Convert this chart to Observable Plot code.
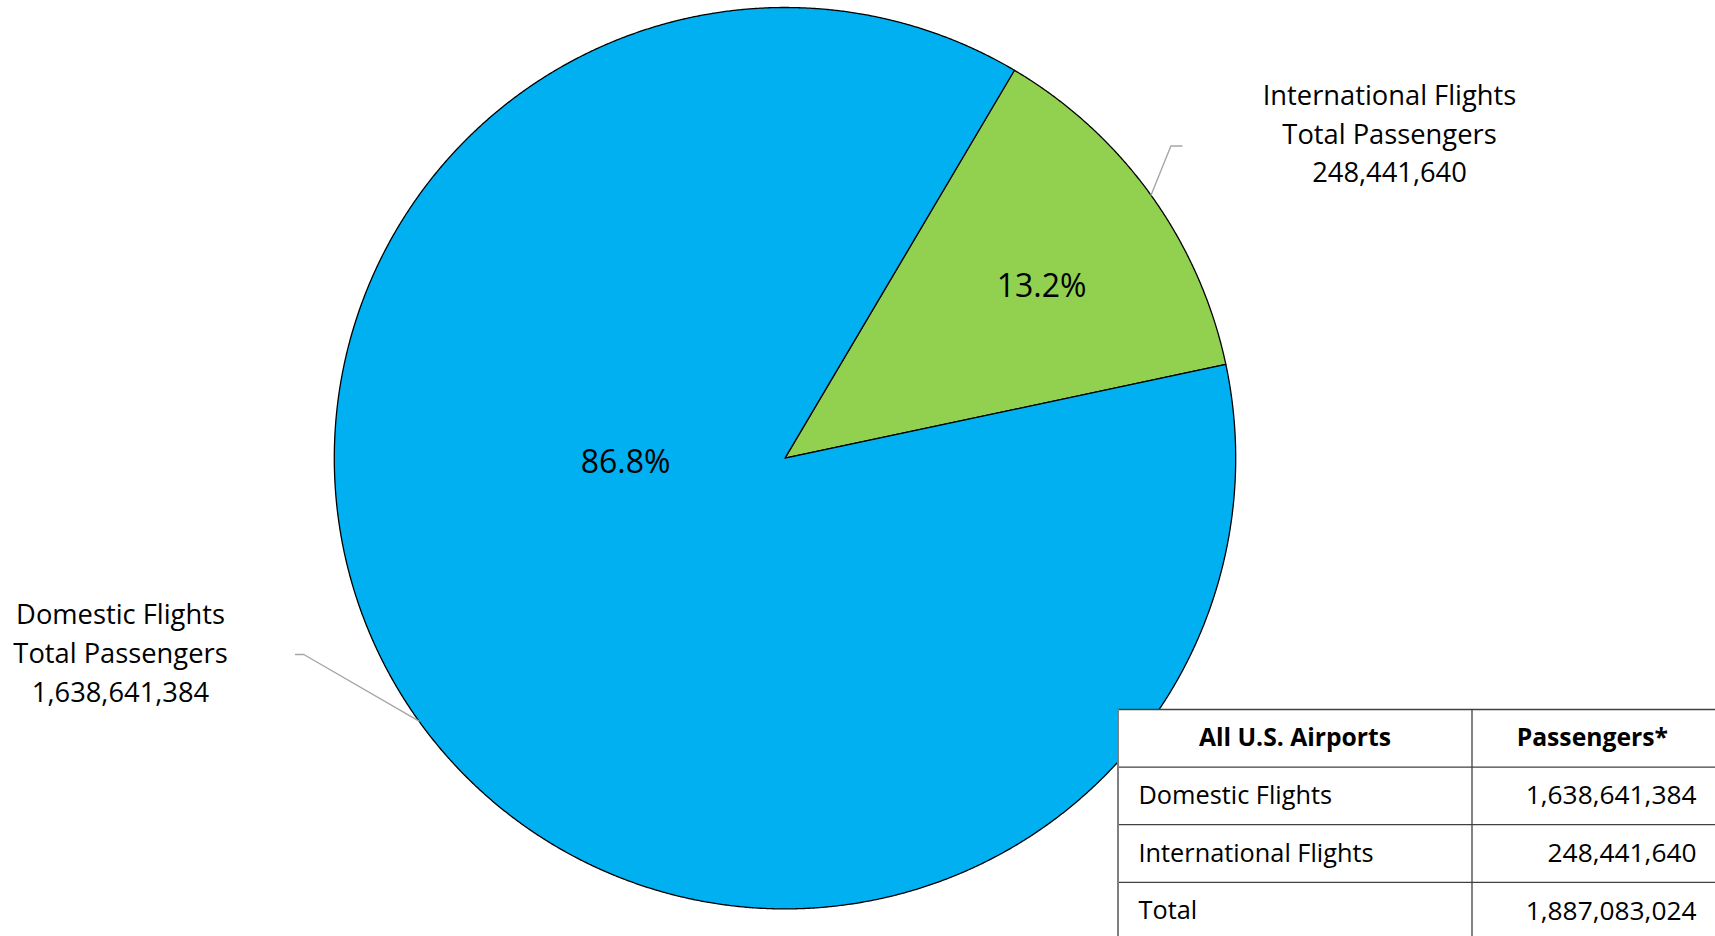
<!DOCTYPE html>
<html><head><meta charset="utf-8">
<script src="https://cdn.jsdelivr.net/npm/d3@7"></script>
<script src="https://cdn.jsdelivr.net/npm/@observablehq/plot@0.6"></script>
<style>html,body{margin:0;padding:0;background:#fff;overflow:hidden;}</style>
</head><body><div id="chart"></div>
<script>
// ---- data ----
const categories = ["Domestic Flights", "International Flights"];
const passengers = [1638641384, 248441640];
const sliceColors = ["#00B0F0", "#92D050"];
const tableHeaders = ["All U.S. Airports", "Passengers*"];
const totalLabel = "Total";
const subLabel = "Total Passengers";

// ---- layout ----
const W = 1715, H = 936;
const cx = 784.5, cy = 457.7, R = 450.7;
const startDeg = 30.6; // start of the international slice, clockwise from 12 o'clock
const rad = d => d * Math.PI / 180;
const polar = (a, r) => [cx + r * Math.sin(a), cy - r * Math.cos(a)];

const total = d3.sum(passengers);
const fmt = d3.format(",");
const pctFmt = d3.format(".1%");

const arcs = d3.pie().sort(null).value(i => passengers[i])
  .startAngle(rad(startDeg)).endAngle(rad(startDeg + 360))([1, 0]);

const slicePts = [];
for (const a of arcs) {
  const name = categories[a.data];
  slicePts.push({name, x: cx, y: cy});
  const n = Math.ceil((a.endAngle - a.startAngle) / rad(0.2));
  for (let k = 0; k <= n; k++) {
    const t = a.startAngle + (a.endAngle - a.startAngle) * k / n;
    const [x, y] = polar(t, R);
    slicePts.push({name, x, y});
  }
  slicePts.push({name, x: cx, y: cy});
}

// percentage label placement (polar, relative to pie)
const pctPlace = {"Domestic Flights": {deg: 268.5, f: 0.354}, "International Flights": {deg: 56.2, f: 0.685}};
const pctLabels = categories.map((c, i) => {
  const [x, y] = polar(rad(pctPlace[c].deg), pctPlace[c].f * R);
  return {x, y, text: pctFmt(passengers[i] / total)};
});

// outer labels & leader lines
const outerPlace = {
  "Domestic Flights": {x: 120, y: 650.3, elbow: [303.3, 654], end: [295, 654]},
  "International Flights": {x: 1389, y: 130.6, elbow: [1170.4, 145.5], end: [1181.5, 145.5]}
};
const outerLabels = categories.map((c, i) => ({x: outerPlace[c].x, y: outerPlace[c].y, text: `${c}\n${subLabel}\n${fmt(passengers[i])}`}));
const leaderPts = [];
for (const a of arcs) {
  const name = categories[a.data];
  const [sx, sy] = polar((a.startAngle + a.endAngle) / 2, R);
  const p = outerPlace[name];
  leaderPts.push({name, x: sx, y: sy}, {name, x: p.elbow[0], y: p.elbow[1]}, {name, x: p.end[0], y: p.end[1]});
}

// table
const tLeft = 1117.5, tDiv = 1471.5, tRight = 1716, tTop = 709, rowH = 57.6;
const tableRows = [
  ...categories.map((c, i) => ({label: c, value: passengers[i]})),
  {label: totalLabel, value: total}
];
const hLines = d3.range(tableRows.length + 1).map(i => tTop + i * rowH);
const rowCells = tableRows.map((r, i) => ({y: tTop + (i + 1.5) * rowH, label: r.label, value: fmt(r.value)}));

const FONT = "'Open Sans', Lato, sans-serif";
const chart = Plot.plot({
  width: W, height: H,
  margin: 0,
  style: {fontFamily: FONT, background: "#fff", overflow: "hidden"},
  x: {domain: [0, W], range: [0, W], axis: null},
  y: {domain: [0, H], range: [0, H], axis: null},
  color: {domain: categories, range: sliceColors},
  marks: [
    Plot.line(slicePts, {x: "x", y: "y", z: "name", fill: "name", stroke: "#000", strokeWidth: 1.3, curve: "linear", strokeLinejoin: "round"}),
    Plot.line(leaderPts, {x: "x", y: "y", z: "name", stroke: "#a6a6a6", strokeWidth: 1.4}),
    Plot.text(pctLabels, {x: "x", y: "y", text: "text", fontSize: 32, fill: "#000"}),
    Plot.text(outerLabels, {x: "x", y: "y", text: "text", fontSize: 27.3, lineHeight: 1.42, textAnchor: "middle", fill: "#000"}),
    // table
    Plot.rect([0], {x1: tLeft, x2: tRight, y1: tTop, y2: H + 10, fill: "#fff"}),
    Plot.ruleY(hLines, {y: d => d, x1: tLeft, x2: tRight, stroke: "#404040", strokeWidth: 1.3}),
    Plot.ruleX([tLeft], {x: d => d, y1: tTop, y2: H + 10, stroke: "#7f7f7f", strokeWidth: 2}),
    Plot.ruleX([tDiv], {x: d => d, y1: tTop, y2: H + 10, stroke: "#404040", strokeWidth: 1.3}),
    Plot.text([tableHeaders[0]], {x: (tLeft + tDiv) / 2, y: tTop + rowH / 2, text: d => d, fontSize: 24.7, fontWeight: "bold", fill: "#000"}),
    Plot.text([tableHeaders[1]], {x: tDiv + 120.3, y: tTop + rowH / 2, text: d => d, fontSize: 24.7, fontWeight: "bold", fill: "#000"}),
    Plot.text(rowCells, {x: tLeft + 20.5, y: "y", text: "label", textAnchor: "start", fontSize: 25.3, fill: "#000"}),
    Plot.text(rowCells, {x: 1696, y: "y", text: "value", textAnchor: "end", fontSize: 26.3, fill: "#000"})
  ]
});
document.getElementById("chart").append(chart);
</script>
</body></html>
